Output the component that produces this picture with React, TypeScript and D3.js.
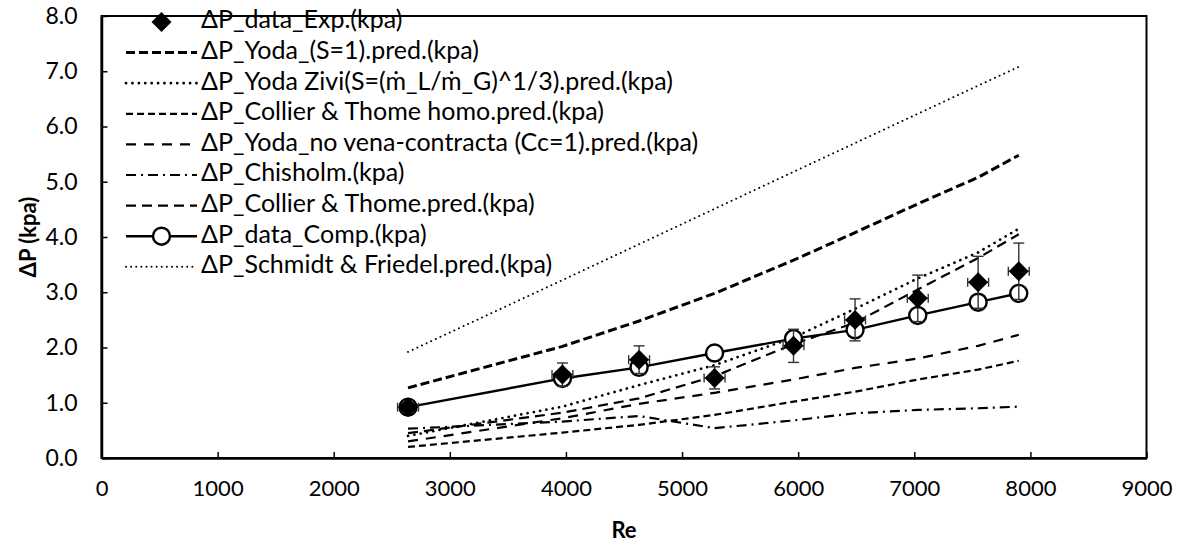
import React, { useEffect, useRef } from "react";
import * as d3 from "d3";

// Reynolds numbers of the test points
const reValues = [2640, 3970, 4630, 5280, 5960, 6490, 7030, 7550, 7900];

// measured / computed pressure drop (kPa)
const expData = [0.92, 1.51, 1.78, 1.45, 2.03, 2.5, 2.89, 3.18, 3.38];
const expErr = [0.08, 0.21, 0.25, 0.2, 0.3, 0.38, 0.42, 0.47, 0.51];
const reErr = [90, 90, 90, 90, 90, 90, 90, 90, 90];
const compData = [0.92, 1.44, 1.64, 1.9, 2.16, 2.32, 2.58, 2.82, 2.98];

// model predictions (kPa)
const yodaS1 = [1.27, 2.02, 2.48, 2.98, 3.58, 4.08, 4.6, 5.08, 5.48];
const yodaZivi = [0.4, 0.93, 1.32, 1.68, 2.18, 2.7, 3.25, 3.72, 4.15];
const collierHomo = [0.2, 0.46, 0.6, 0.78, 1.02, 1.2, 1.42, 1.6, 1.76];
const yodaNoVena = [0.3, 0.72, 0.98, 1.18, 1.42, 1.63, 1.8, 2.03, 2.23];
const chisholm = [0.53, 0.66, 0.76, 0.54, 0.68, 0.81, 0.87, 0.9, 0.93];
const collierThome = [0.45, 0.82, 1.08, 1.48, 2.06, 2.45, 3.05, 3.62, 4.05];
const schmidt = [1.92, 3.22, 3.87, 4.51, 5.18, 5.7, 6.23, 6.74, 7.08];

const xTicks = [0, 1000, 2000, 3000, 4000, 5000, 6000, 7000, 8000, 9000];
const yTicks = [0, 1, 2, 3, 4, 5, 6, 7, 8];

const legendLabels = [
  "ΔP_data_Exp.(kpa)",
  "ΔP_Yoda_(S=1).pred.(kpa)",
  "ΔP_Yoda Zivi(S=(ṁ_L/ṁ_G)^1/3).pred.(kpa)",
  "ΔP_Collier & Thome homo.pred.(kpa)",
  "ΔP_Yoda_no vena-contracta (Cc=1).pred.(kpa)",
  "ΔP_Chisholm.(kpa)",
  "ΔP_Collier & Thome.pred.(kpa)",
  "ΔP_data_Comp.(kpa)",
  "ΔP_Schmidt & Friedel.pred.(kpa)",
];

const FONT = "Lato, 'Open Sans', sans-serif";

const App = () => {
  const width = 1181;
  const height = 548;
  const svgRef = useRef(null);

  useEffect(() => {
    const svg = d3.select(svgRef.current);
    svg.selectAll("*").remove();

    const x = d3.scaleLinear().domain([0, 9000]).range([101.5, 1146.5]);
    const y = d3.scaleLinear().domain([0, 8]).range([458, 16]);

    const line = d3
      .line<number>()
      .x((d, i) => x(reValues[i]))
      .y((d) => y(d));

    // prediction lines, with their dash styles
    const series = [
      { name: legendLabels[1], data: yodaS1, w: 3, dash: "9,4", cap: "butt" },
      { name: legendLabels[2], data: yodaZivi, w: 2.7, dash: "0.1,6.3", cap: "round" },
      { name: legendLabels[3], data: collierHomo, w: 2.2, dash: "7,4", cap: "butt" },
      { name: legendLabels[4], data: yodaNoVena, w: 2.2, dash: "10,8", cap: "butt" },
      { name: legendLabels[5], data: chisholm, w: 2.2, dash: "10,5,2,5", cap: "butt" },
      { name: legendLabels[6], data: collierThome, w: 2.2, dash: "10,6", cap: "butt" },
      { name: legendLabels[8], data: schmidt, w: 1.9, dash: "0.1,5", cap: "round" },
    ];

    const plot = svg.append("g");

    series.forEach((s) => {
      plot
        .append("path")
        .attr("d", line(s.data))
        .attr("fill", "none")
        .attr("stroke", "#000")
        .attr("stroke-width", s.w)
        .attr("stroke-dasharray", s.dash)
        .attr("stroke-linecap", s.cap);
    });

    // computed data: solid line with open circles
    plot
      .append("path")
      .attr("d", line(compData))
      .attr("fill", "none")
      .attr("stroke", "#000")
      .attr("stroke-width", 2.4);

    plot
      .selectAll(".comp")
      .data(compData)
      .join("circle")
      .attr("class", "comp")
      .attr("cx", (d, i) => x(reValues[i]))
      .attr("cy", (d) => y(d))
      .attr("r", 8.5)
      .attr("fill", "#fff")
      .attr("stroke", "#000")
      .attr("stroke-width", 2.4);

    // error bars of experimental data
    const eb = plot.append("g").attr("stroke", "#333").attr("stroke-width", 1.4);
    expData.forEach((v, i) => {
      const cx = x(reValues[i]);
      const y1 = y(v + expErr[i]);
      const y0 = y(v - expErr[i]);
      eb.append("line").attr("x1", cx).attr("x2", cx).attr("y1", y0).attr("y2", y1);
      eb.append("line").attr("x1", cx - 5.5).attr("x2", cx + 5.5).attr("y1", y1).attr("y2", y1);
      eb.append("line").attr("x1", cx - 5.5).attr("x2", cx + 5.5).attr("y1", y0).attr("y2", y0);
      const xl = x(reValues[i] - reErr[i]);
      const xr = x(reValues[i] + reErr[i]);
      const cy = y(v);
      eb.append("line").attr("x1", xl).attr("x2", xr).attr("y1", cy).attr("y2", cy);
      eb.append("line").attr("x1", xl).attr("x2", xl).attr("y1", cy - 4.5).attr("y2", cy + 4.5);
      eb.append("line").attr("x1", xr).attr("x2", xr).attr("y1", cy - 4.5).attr("y2", cy + 4.5);
    });

    const diamond = d3.symbol().type(d3.symbolSquare).size(200);
    plot
      .selectAll(".exp")
      .data(expData)
      .join("path")
      .attr("class", "exp")
      .attr("d", diamond)
      .attr("transform", (d, i) => `translate(${x(reValues[i])},${y(d)}) rotate(45)`)
      .attr("fill", "#000");

    // frame
    svg
      .append("rect")
      .attr("x", x(0))
      .attr("y", y(8))
      .attr("width", x(9000) - x(0))
      .attr("height", y(0) - y(8))
      .attr("fill", "none")
      .attr("stroke", "#000")
      .attr("stroke-width", 2);

    // axes
    const xAxis = svg.append("g").attr("transform", `translate(0,${y(0)})`);
    xAxis
      .call(
        d3
          .axisBottom(x)
          .tickValues(xTicks)
          .tickFormat(d3.format("d"))
          .tickSizeInner(-6)
          .tickSizeOuter(0)
          .tickPadding(22)
      )
      .call((g) => g.select(".domain").attr("stroke-width", 2.5));
    xAxis.selectAll(".tick line").attr("stroke-width", 1.5);
    xAxis.selectAll("text").attr("font-size", 22).attr("font-family", FONT).attr("fill", "#000");

    const yAxis = svg.append("g").attr("transform", `translate(${x(0)},0)`);
    yAxis
      .call(
        d3
          .axisLeft(y)
          .tickValues(yTicks)
          .tickFormat(d3.format(".1f"))
          .tickSizeInner(-6)
          .tickSizeOuter(0)
          .tickPadding(24)
      )
      .call((g) => g.select(".domain").attr("stroke-width", 2.5));
    yAxis.selectAll(".tick line").attr("stroke-width", 1.5);
    yAxis.selectAll("text").attr("font-size", 23).attr("font-family", FONT).attr("fill", "#000");

    // axis titles
    svg
      .append("text")
      .attr("x", x(4500))
      .attr("y", 532)
      .attr("text-anchor", "middle")
      .attr("dominant-baseline", "middle")
      .attr("font-family", FONT)
      .attr("font-weight", "bold")
      .attr("font-size", 22)
      .text("Re");

    svg
      .append("text")
      .attr("transform", `translate(30,${y(4)}) rotate(-90)`)
      .attr("text-anchor", "middle")
      .attr("dominant-baseline", "middle")
      .attr("font-family", FONT)
      .attr("font-weight", "bold")
      .attr("font-size", 22)
      .text("ΔP (kpa)");

    // legend
    const legend = svg.append("g");
    const rowY = (i) => 22 + i * 30.6;
    const sx0 = 126;
    const sx1 = 197;

    legend
      .append("path")
      .attr("d", diamond)
      .attr("transform", `translate(${(sx0 + sx1) / 2},${rowY(0)}) rotate(45)`)
      .attr("fill", "#000");

    const styleByName = new Map(series.map((s) => [s.name, s]));
    legendLabels.forEach((lab, i) => {
      const s = styleByName.get(lab);
      if (s) {
        legend
          .append("line")
          .attr("x1", sx0)
          .attr("x2", sx1)
          .attr("y1", rowY(i))
          .attr("y2", rowY(i))
          .attr("stroke", "#000")
          .attr("stroke-width", s.w)
          .attr("stroke-dasharray", s.dash)
          .attr("stroke-linecap", s.cap);
      }
      if (lab === legendLabels[7]) {
        legend
          .append("line")
          .attr("x1", sx0)
          .attr("x2", sx1)
          .attr("y1", rowY(i))
          .attr("y2", rowY(i))
          .attr("stroke", "#000")
          .attr("stroke-width", 2.4);
        legend
          .append("circle")
          .attr("cx", (sx0 + sx1) / 2)
          .attr("cy", rowY(i))
          .attr("r", 8.5)
          .attr("fill", "#fff")
          .attr("stroke", "#000")
          .attr("stroke-width", 2.4);
      }
      legend
        .append("text")
        .attr("x", 201)
        .attr("y", rowY(i))
        .attr("dominant-baseline", "middle")
        .attr("font-family", FONT)
        .attr("font-size", 25)
        .attr("fill", "#000")
        .text(lab);
    });
  }, []);

  return (
    <svg
      ref={svgRef}
      width={width}
      height={height}
      style={{ position: "absolute", left: 0, top: 0, background: "#fff" }}
    ></svg>
  );
};

export default App;
